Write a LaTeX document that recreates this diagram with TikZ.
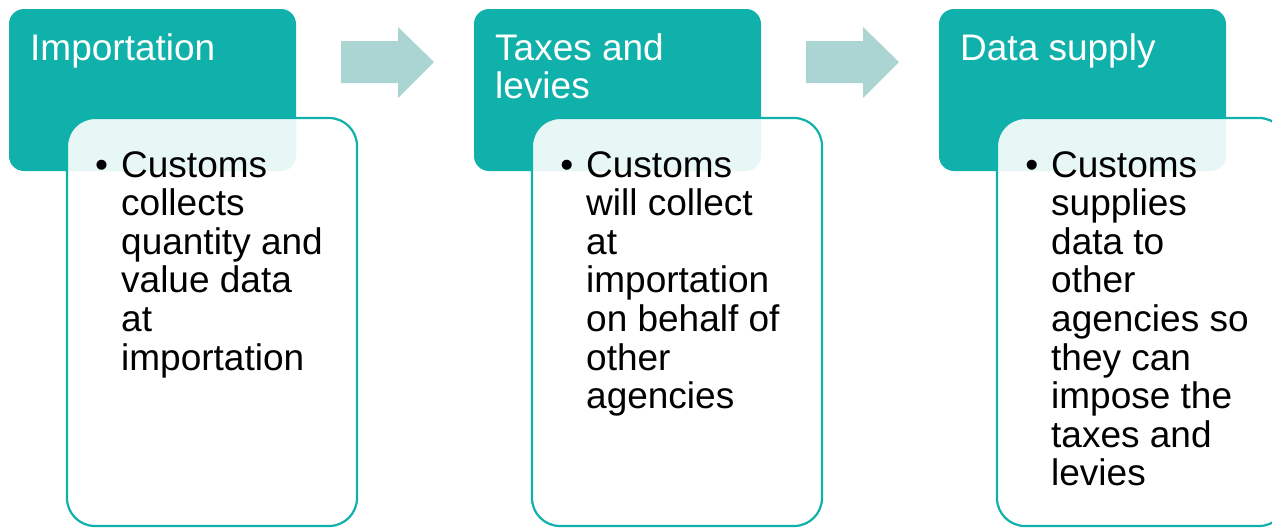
\documentclass[tikz,border=0pt]{standalone}
\usepackage{fontspec}
\setmainfont{Liberation Sans}
\definecolor{teal1}{HTML}{10B1AA}
\definecolor{arrowc}{HTML}{AAD5D2}
\begin{document}
\begin{tikzpicture}[x=1pt,y=-1pt,
  headbox/.style={fill=teal1, draw=none, rounded corners=15pt},
  bodybox/.style={draw=teal1, line width=2.2pt, fill=white, fill opacity=0.9, rounded corners=28pt},
  headtext/.style={anchor=base west, inner sep=0pt, text=white, align=left,
     font=\fontsize{37}{38.5}\selectfont},
  bodytext/.style={anchor=base west, inner sep=0pt, text=black, align=left,
     font=\fontsize{37}{38.6}\selectfont},
  flowarrow/.style={fill=arrowc, draw=none}]
\useasboundingbox (0,0) rectangle (1272,528);
\clip (0,0) rectangle (1272,528);
% column 1
\fill[headbox] (9,9) rectangle (296,171);
\node[headtext] (h1) at (30,60) {Importation};
\path[bodybox] (67,118) rectangle (357,526);
\node[bodytext] (b1) at (121,370) {\llap{•\hspace{13pt}}Customs\\collects\\quantity and\\value data\\at\\importation};
% column 2
\fill[headbox] (474,9) rectangle (761,171);
\node[headtext] (h2) at (495,98.5) {Taxes and\\levies};
\path[bodybox] (532,118) rectangle (822,526);
\node[bodytext] (b2) at (586,408.6) {\llap{•\hspace{13pt}}Customs\\will collect\\at\\importation\\on behalf of\\other\\agencies};
% column 3
\fill[headbox] (939,9) rectangle (1226,171);
\node[headtext] (h3) at (960,60) {Data supply};
\path[bodybox] (997,118) rectangle (1287,526);
\node[bodytext] (b3) at (1051,485.8) {\llap{•\hspace{13pt}}Customs\\supplies\\data to\\other\\agencies so\\they can\\impose the\\taxes and\\levies};
% arrows
\fill[flowarrow] (341,41) -- (398,41) -- (398,27) -- (434,62) -- (398,98) -- (398,83) -- (341,83) -- cycle;
\fill[flowarrow] (806,41) -- (863,41) -- (863,27) -- (899,62) -- (863,98) -- (863,83) -- (806,83) -- cycle;
\end{tikzpicture}
\end{document}
